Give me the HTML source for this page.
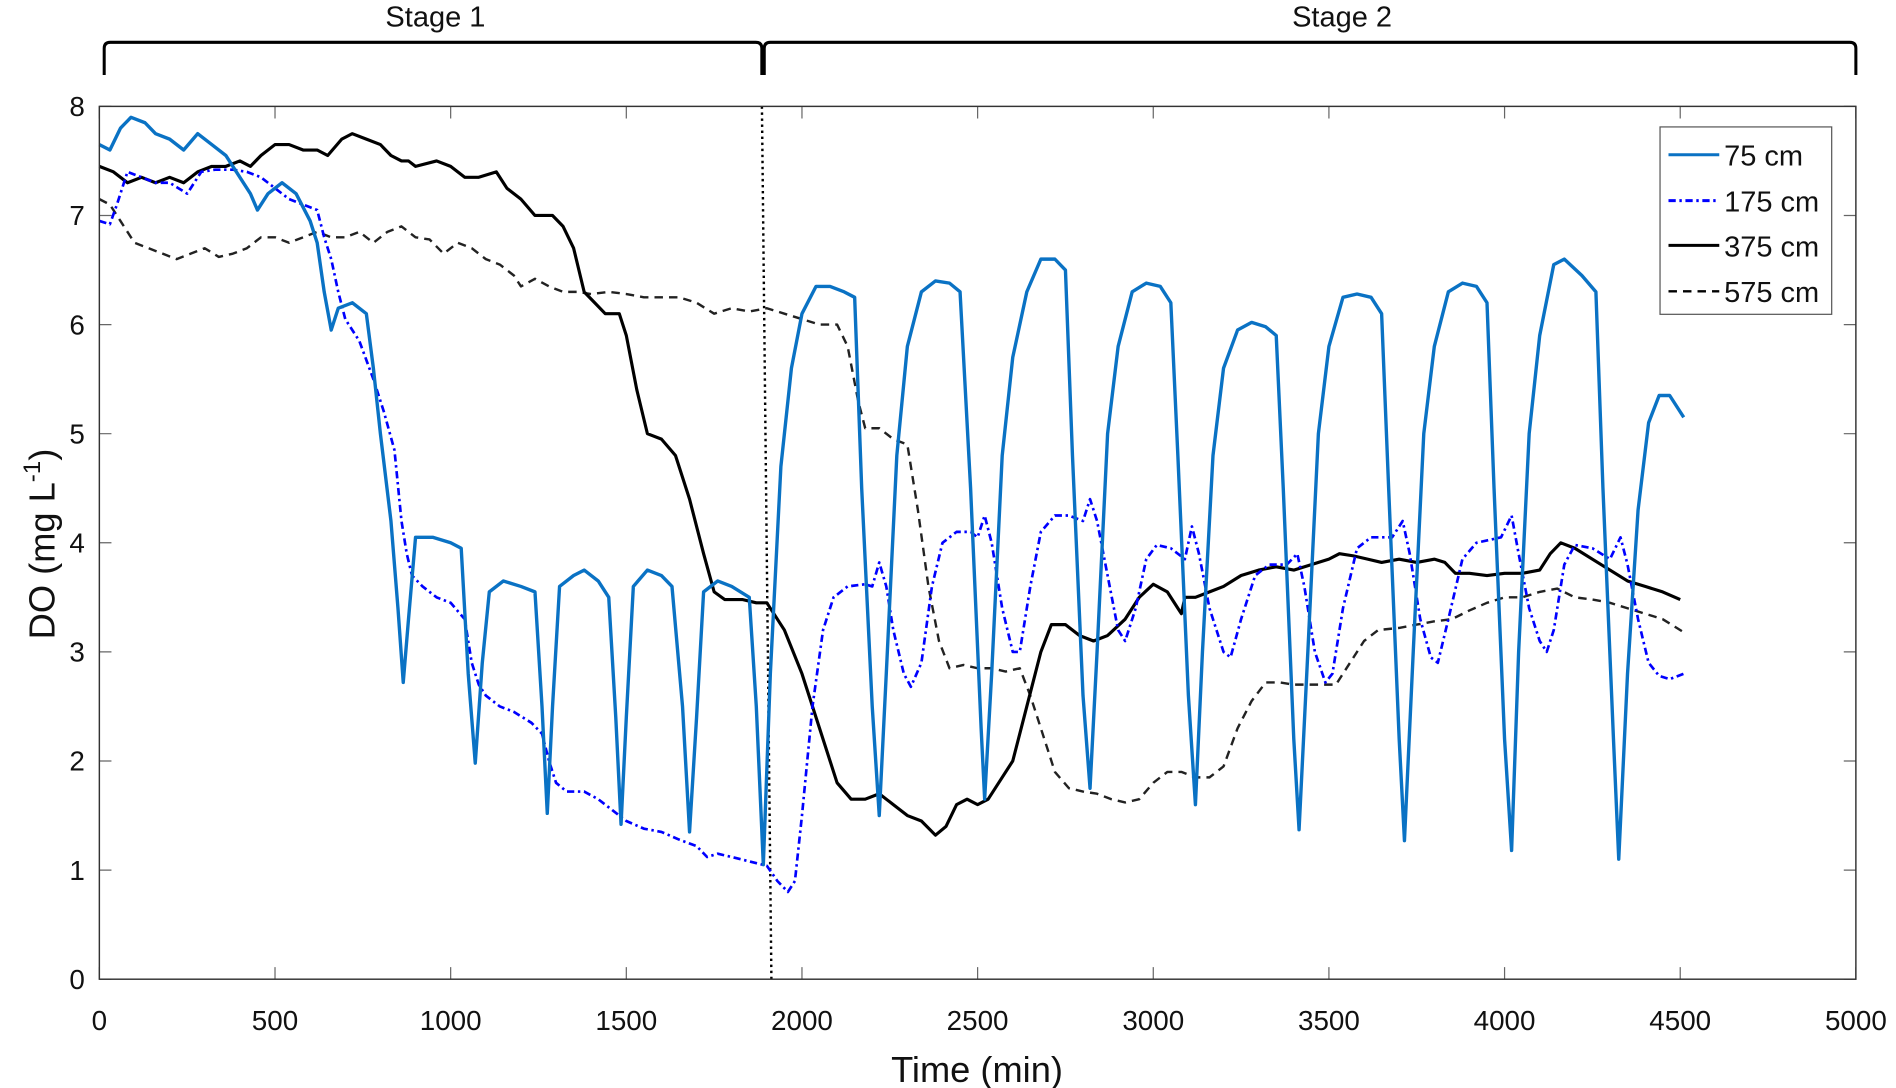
<!DOCTYPE html>
<html><head><meta charset="utf-8"><style>
html,body{margin:0;padding:0;background:#fff;}
svg{display:block;}
text{font-family:"Liberation Sans",sans-serif;fill:#111;}
</style></head><body>
<svg id="chart" width="1896" height="1088" viewBox="0 0 1568 900" xmlns="http://www.w3.org/2000/svg">
<g id="stages">
<path d="M86,62 L86,40 Q86,35 91,35 L625,35 Q630,35 630,40 L630,62" fill="none" stroke="#000" stroke-width="2.5"/>
<path d="M632,62 L632,40 Q632,35 637,35 L1530,35 Q1535,35 1535,40 L1535,62" fill="none" stroke="#000" stroke-width="2.5"/>
<text x="360" y="22" font-size="24" text-anchor="middle">Stage 1</text>
<text x="1110" y="22" font-size="24" text-anchor="middle">Stage 2</text>
</g>
<g id="axes"></g>
<g id="series"></g>
<rect x="82" y="88" width="1453" height="722" fill="none" stroke="#333" stroke-width="1.2"/>
<text x="808" y="895" font-size="30" text-anchor="middle">Time (min)</text>
<text transform="translate(45,450) rotate(-90)" font-size="30" text-anchor="middle">DO (mg L<tspan font-size="20" dy="-12">-1</tspan><tspan dy="12">)</tspan></text>
<g>
<rect x="1373" y="105" width="142" height="155" fill="#fff" stroke="#555" stroke-width="1"/>
<line x1="1380" y1="128" x2="1422" y2="128" stroke="#0a72c4" stroke-width="2.5"/>
<text x="1426" y="137" font-size="24">75 cm</text>
<line x1="1380" y1="166" x2="1422" y2="166" stroke="#0000ff" stroke-width="2.5" stroke-dasharray="6,3,2,3"/>
<text x="1426" y="175" font-size="24">175 cm</text>
<line x1="1380" y1="203" x2="1422" y2="203" stroke="#000" stroke-width="2.5"/>
<text x="1426" y="212" font-size="24">375 cm</text>
<line x1="1380" y1="241" x2="1422" y2="241" stroke="#000" stroke-width="2" stroke-dasharray="7,5"/>
<text x="1426" y="250" font-size="24">575 cm</text>
</g>
</svg>
<script>
const xTicks=[0,500,1000,1500,2000,2500,3000,3500,4000,4500,5000];
const yTicks=[0,1,2,3,4,5,6,7,8];
const t75=[0,30,60,90,130,160,200,240,280,320,360,400,430,450,480,520,560,600,620,640,660,680,720,760,780,800,830,850,865,880,900,950,1000,1030,1050,1070,1090,1110,1150,1200,1240,1260,1275,1290,1310,1350,1380,1420,1450,1470,1485,1500,1520,1560,1600,1630,1660,1680,1700,1720,1760,1800,1850,1870,1890,1910,1940,1970,2000,2040,2080,2120,2150,2170,2200,2220,2240,2270,2300,2340,2380,2420,2450,2480,2510,2520,2540,2570,2600,2640,2680,2720,2750,2770,2800,2820,2840,2870,2900,2940,2980,3020,3050,3070,3100,3120,3140,3170,3200,3240,3280,3320,3350,3370,3400,3415,3440,3470,3500,3540,3580,3620,3650,3670,3700,3715,3740,3770,3800,3840,3880,3920,3950,3970,4000,4020,4040,4070,4100,4140,4170,4220,4260,4280,4310,4325,4350,4380,4410,4440,4470,4500,4510];
const v75=[7.65,7.6,7.8,7.9,7.85,7.75,7.7,7.6,7.75,7.65,7.55,7.35,7.2,7.05,7.2,7.3,7.2,6.95,6.75,6.3,5.95,6.15,6.2,6.1,5.6,5.0,4.2,3.4,2.72,3.3,4.05,4.05,4.0,3.95,2.8,1.98,2.9,3.55,3.65,3.6,3.55,2.5,1.52,2.5,3.6,3.7,3.75,3.65,3.5,2.4,1.42,2.4,3.6,3.75,3.7,3.6,2.5,1.35,2.4,3.55,3.65,3.6,3.5,2.5,1.05,2.8,4.7,5.6,6.1,6.35,6.35,6.3,6.25,4.5,2.5,1.5,2.8,4.8,5.8,6.3,6.4,6.38,6.3,4.5,2.3,1.65,2.8,4.8,5.7,6.3,6.6,6.6,6.5,4.8,2.6,1.75,3,5,5.8,6.3,6.38,6.35,6.2,4.8,2.6,1.6,3,4.8,5.6,5.95,6.02,5.98,5.9,4.5,2.2,1.37,3,5,5.8,6.25,6.28,6.25,6.1,4.5,2.2,1.27,3,5,5.8,6.3,6.38,6.35,6.2,4.5,2.2,1.18,3,5,5.9,6.55,6.6,6.45,6.3,4.5,2.2,1.1,2.8,4.3,5.1,5.35,5.35,5.2,5.15];
const t175=[0,30,50,80,120,160,200,250,290,330,380,420,460,500,540,580,620,640,660,680,700,740,780,810,840,860,875,890,920,960,1000,1040,1060,1080,1100,1140,1180,1230,1260,1280,1300,1330,1380,1420,1460,1500,1550,1600,1650,1700,1730,1760,1800,1850,1900,1930,1960,1980,2000,2030,2060,2090,2130,2180,2200,2220,2240,2260,2290,2310,2340,2370,2400,2440,2480,2500,2520,2540,2570,2600,2620,2650,2680,2720,2760,2800,2820,2840,2870,2900,2920,2950,2980,3010,3050,3090,3110,3130,3160,3200,3220,3250,3290,3330,3380,3410,3430,3460,3490,3510,3540,3580,3620,3680,3710,3730,3760,3790,3810,3840,3880,3920,3990,4020,4040,4070,4100,4120,4140,4170,4200,4250,4300,4330,4350,4380,4410,4440,4470,4510];
const v175=[6.95,6.92,7.1,7.4,7.35,7.3,7.3,7.2,7.4,7.42,7.42,7.4,7.35,7.25,7.15,7.1,7.05,6.8,6.6,6.3,6.05,5.85,5.5,5.2,4.85,4.2,3.9,3.7,3.6,3.5,3.45,3.3,2.9,2.7,2.6,2.5,2.45,2.35,2.25,2.0,1.8,1.72,1.72,1.65,1.55,1.45,1.38,1.35,1.28,1.22,1.12,1.15,1.12,1.08,1.04,0.9,0.8,0.9,1.5,2.5,3.2,3.5,3.6,3.62,3.6,3.82,3.6,3.2,2.8,2.68,2.9,3.6,4.0,4.1,4.1,4.05,4.25,4.0,3.4,3.0,3.0,3.6,4.1,4.25,4.25,4.2,4.4,4.2,3.7,3.2,3.1,3.4,3.85,3.98,3.95,3.85,4.15,3.9,3.4,3.0,2.95,3.3,3.7,3.8,3.8,3.9,3.6,3.0,2.72,2.8,3.4,3.95,4.05,4.05,4.2,3.9,3.3,2.95,2.9,3.3,3.85,4.0,4.05,4.25,3.9,3.4,3.1,3.0,3.2,3.8,3.98,3.95,3.85,4.05,3.8,3.3,2.9,2.78,2.75,2.8];
const t375=[0,40,80,120,160,200,240,280,320,360,400,430,460,500,540,580,620,650,690,720,760,800,830,860,880,900,960,1000,1040,1080,1130,1160,1200,1240,1290,1320,1350,1380,1410,1440,1480,1500,1530,1560,1600,1640,1680,1720,1750,1780,1830,1870,1900,1950,2000,2050,2100,2140,2180,2220,2260,2300,2340,2380,2410,2440,2470,2500,2530,2560,2600,2640,2680,2710,2750,2790,2830,2870,2920,2960,3000,3040,3070,3080,3090,3120,3160,3200,3250,3300,3350,3400,3450,3500,3530,3570,3610,3650,3700,3750,3800,3830,3860,3900,3950,4000,4050,4100,4130,4160,4200,4250,4300,4350,4400,4450,4500];
const v375=[7.45,7.4,7.3,7.35,7.3,7.35,7.3,7.4,7.45,7.45,7.5,7.45,7.55,7.65,7.65,7.6,7.6,7.55,7.7,7.75,7.7,7.65,7.55,7.5,7.5,7.45,7.5,7.45,7.35,7.35,7.4,7.25,7.15,7.0,7.0,6.9,6.7,6.3,6.2,6.1,6.1,5.9,5.4,5.0,4.95,4.8,4.4,3.9,3.55,3.48,3.48,3.45,3.45,3.2,2.8,2.3,1.8,1.65,1.65,1.7,1.6,1.5,1.45,1.32,1.4,1.6,1.65,1.6,1.65,1.8,2.0,2.5,3.0,3.25,3.25,3.15,3.1,3.15,3.3,3.5,3.62,3.55,3.4,3.35,3.5,3.5,3.55,3.6,3.7,3.75,3.78,3.75,3.8,3.85,3.9,3.88,3.85,3.82,3.85,3.82,3.85,3.82,3.72,3.72,3.7,3.72,3.72,3.75,3.9,4.0,3.95,3.85,3.75,3.65,3.6,3.55,3.48];
const t575=[0,30,60,100,140,180,220,260,300,340,380,420,460,500,540,580,620,660,700,740,780,820,860,900,940,980,1020,1060,1100,1140,1180,1200,1240,1280,1320,1360,1400,1450,1500,1550,1600,1650,1700,1750,1800,1850,1900,1950,2000,2050,2100,2130,2160,2180,2220,2260,2300,2330,2360,2390,2420,2460,2500,2540,2580,2620,2650,2690,2720,2760,2800,2840,2880,2920,2960,3000,3040,3080,3120,3160,3200,3240,3280,3320,3360,3400,3440,3480,3520,3560,3600,3640,3700,3750,3800,3850,3900,3950,4000,4050,4100,4150,4200,4250,4300,4350,4400,4450,4510];
const v575=[7.15,7.1,6.95,6.75,6.7,6.65,6.6,6.65,6.7,6.62,6.65,6.7,6.8,6.8,6.75,6.8,6.85,6.8,6.8,6.85,6.75,6.85,6.9,6.8,6.78,6.65,6.75,6.7,6.6,6.55,6.45,6.35,6.42,6.35,6.3,6.3,6.28,6.3,6.28,6.25,6.25,6.25,6.2,6.1,6.15,6.12,6.15,6.1,6.05,6.0,6.0,5.8,5.3,5.05,5.05,4.95,4.9,4.3,3.6,3.1,2.85,2.88,2.85,2.85,2.82,2.85,2.6,2.2,1.9,1.75,1.72,1.7,1.65,1.62,1.65,1.8,1.9,1.9,1.85,1.85,1.95,2.3,2.55,2.72,2.72,2.7,2.7,2.7,2.7,2.9,3.1,3.2,3.22,3.25,3.28,3.3,3.38,3.45,3.5,3.5,3.55,3.58,3.5,3.48,3.45,3.4,3.35,3.3,3.18];
const stageBoundary=[1886,1913];

const NS='http://www.w3.org/2000/svg';
const X0=82,X1=1535,Y0=810,Y1=88;
function xs(t){return X0+(t/5000)*(X1-X0);}
function ys(v){return Y0-(v/8)*(Y0-Y1);}
const axes=document.getElementById('axes');
xTicks.forEach(t=>{
  const x=xs(t);
  const l=document.createElementNS(NS,'path');
  l.setAttribute('d',`M${x},${Y0} v-10 M${x},${Y1} v10`);
  l.setAttribute('stroke','#666');l.setAttribute('stroke-width','1');
  
  
  axes.appendChild(l);
  const tx=document.createElementNS(NS,'text');
  tx.setAttribute('x',x);tx.setAttribute('y',Y0+42);
  tx.setAttribute('font-size','23');tx.setAttribute('text-anchor','middle');
  tx.textContent=t;
  
  
  axes.appendChild(tx);
});
yTicks.forEach(v=>{
  const y=ys(v);
  const l=document.createElementNS(NS,'path');
  l.setAttribute('d',`M${X0},${y} h10 M${X1},${y} h-10`);
  l.setAttribute('stroke','#666');l.setAttribute('stroke-width','1');
  
  
  axes.appendChild(l);
  const tx=document.createElementNS(NS,'text');
  tx.setAttribute('x',X0-12);tx.setAttribute('y',y+8);
  tx.setAttribute('font-size','23');tx.setAttribute('text-anchor','end');
  tx.textContent=v;
  
  
  axes.appendChild(tx);
});
const sg=document.getElementById('series');
const bl=document.createElementNS(NS,'line');
bl.setAttribute('x1',xs(stageBoundary[0]));bl.setAttribute('y1',Y1);
bl.setAttribute('x2',xs(stageBoundary[1]));bl.setAttribute('y2',Y0);
bl.setAttribute('stroke','#000');bl.setAttribute('stroke-width','2');bl.setAttribute('stroke-dasharray','2,3');


sg.appendChild(bl);
function draw(ts,vs,color,w,dash,name){
  const p=document.createElementNS(NS,'polyline');
  p.setAttribute('points',ts.map((t,i)=>xs(t)+','+ys(vs[i])).join(' '));
  p.setAttribute('fill','none');p.setAttribute('stroke',color);p.setAttribute('stroke-width',w);
  p.setAttribute('stroke-linejoin','round');
  if(dash)p.setAttribute('stroke-dasharray',dash);
  
  
  sg.appendChild(p);
}
draw(t575,v575,'#222',2,'7,5','series-575cm');
draw(t375,v375,'#000',2.6,null,'series-375cm');
draw(t175,v175,'#0000ff',2.2,'6,3,2,3','series-175cm');
draw(t75,v75,'#0a72c4',2.8,null,'series-75cm');
</script>
</body></html>
